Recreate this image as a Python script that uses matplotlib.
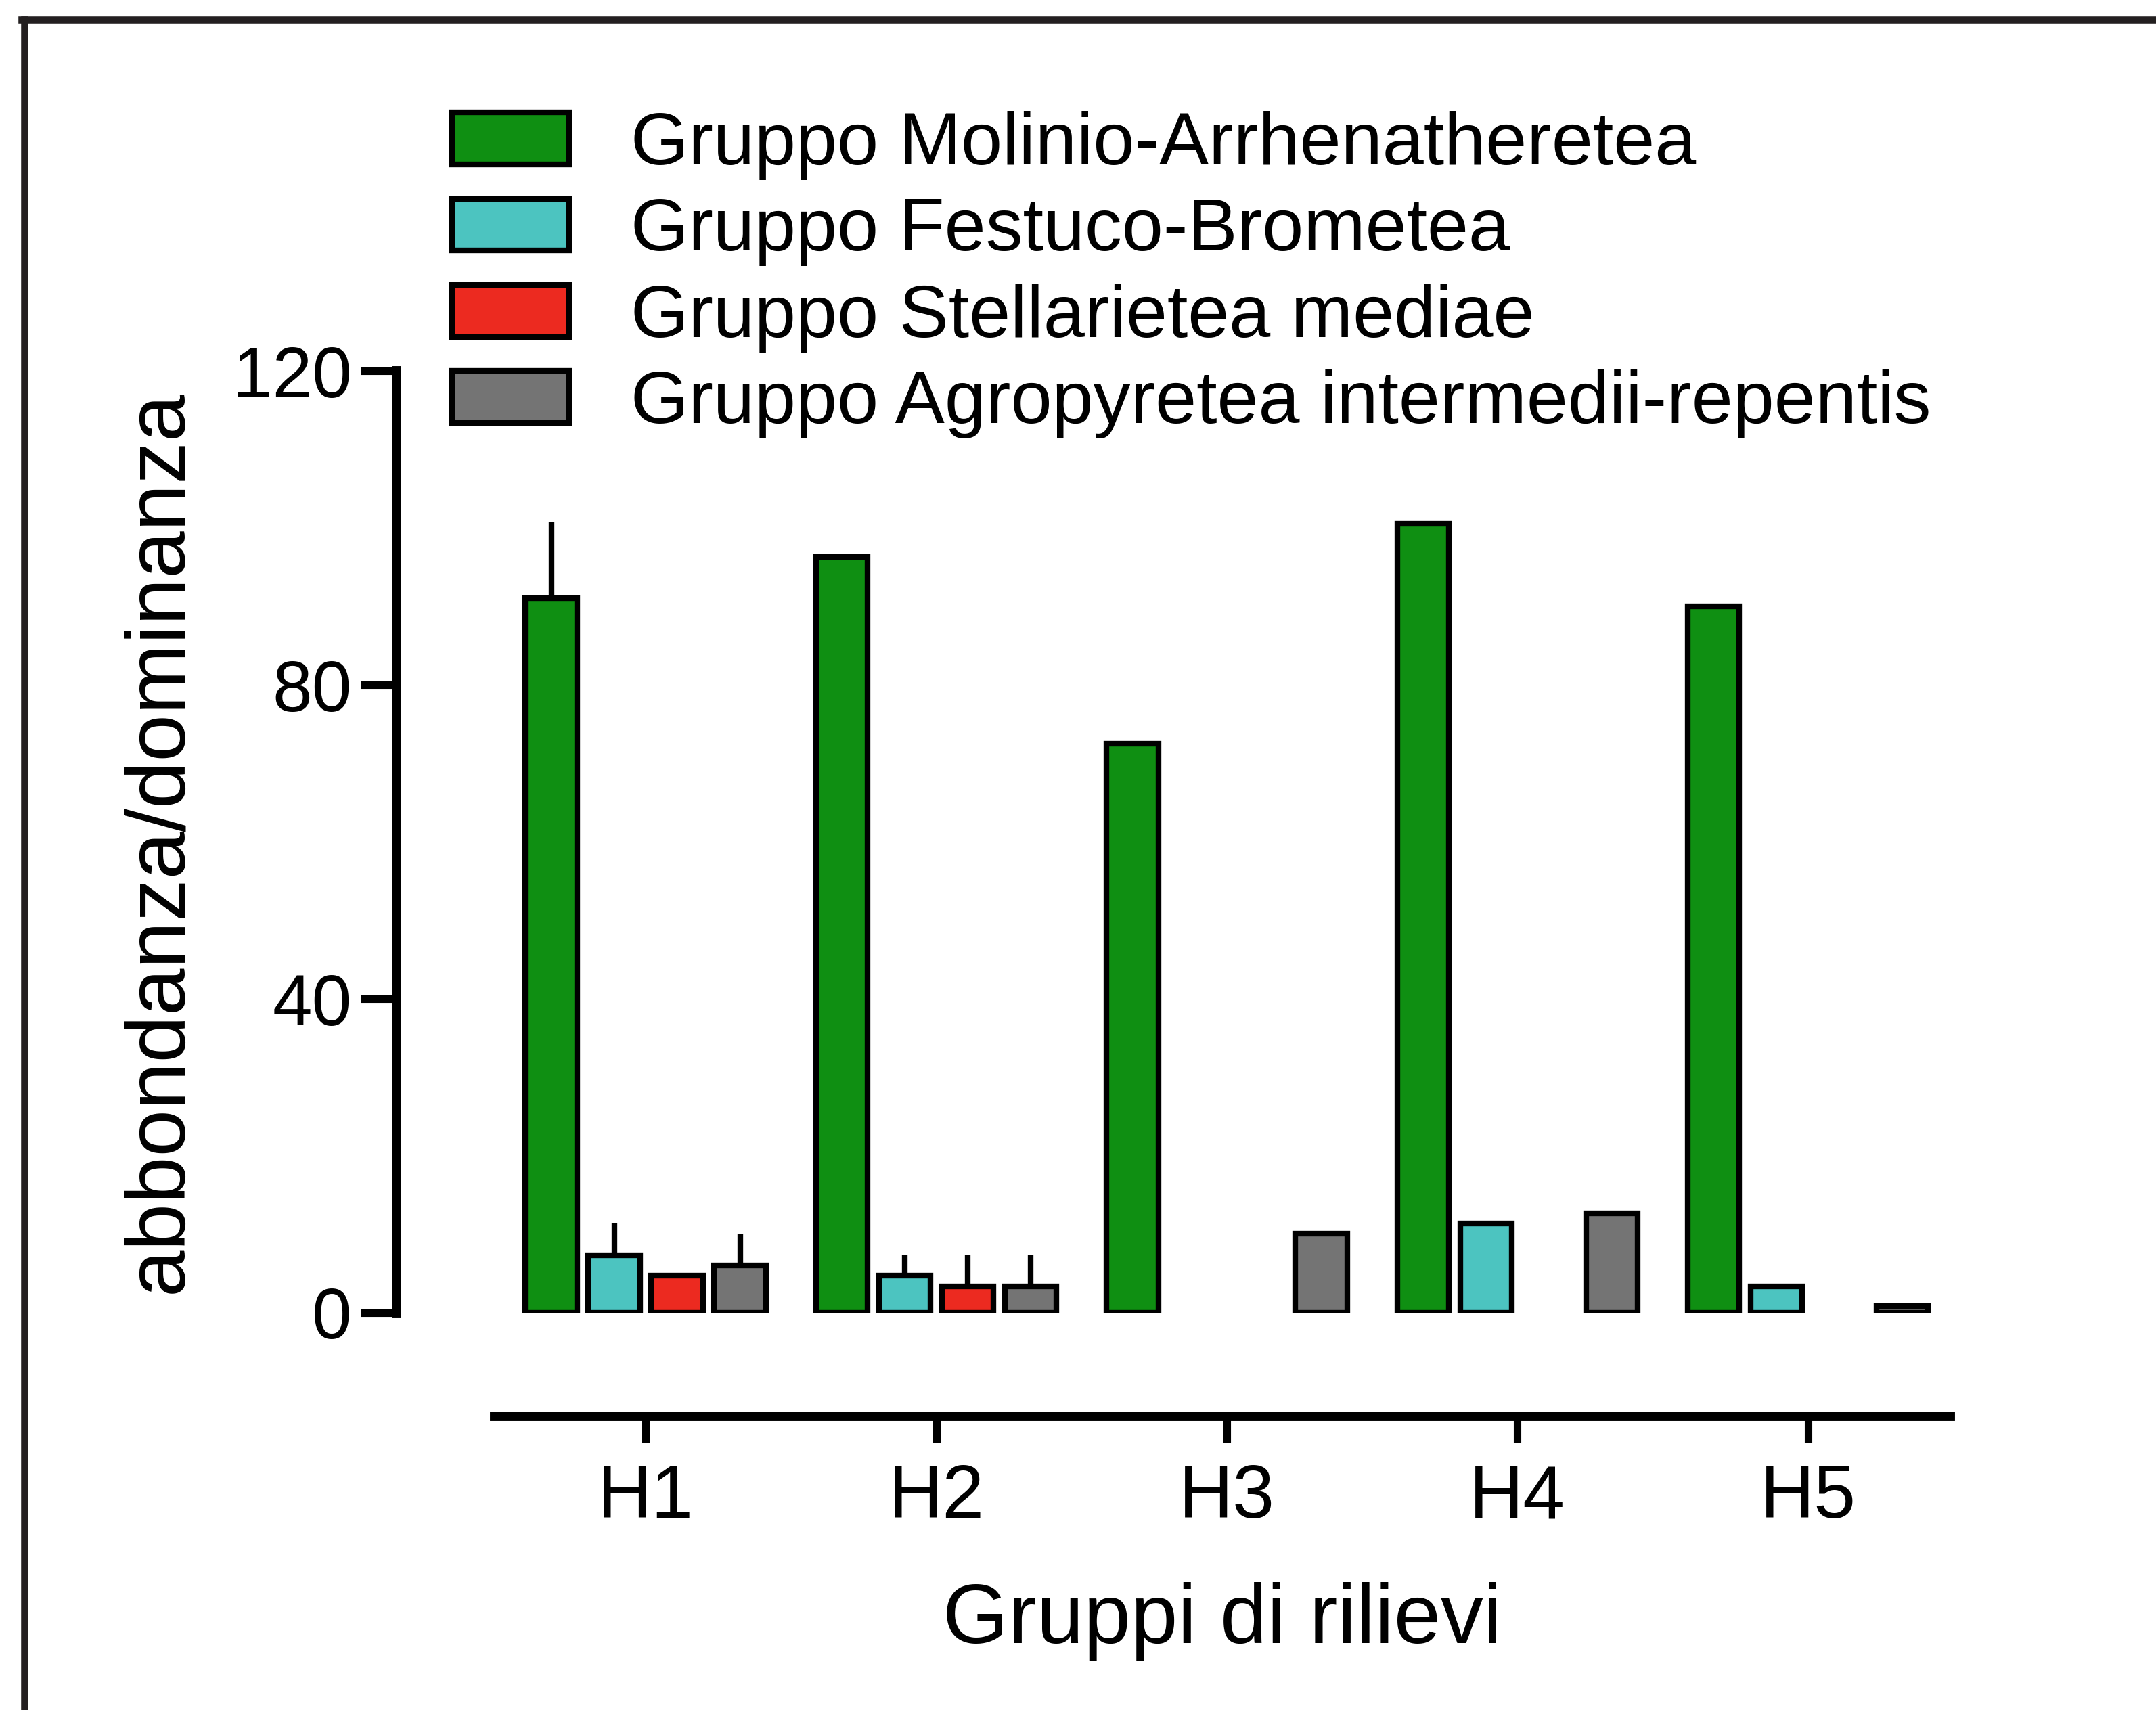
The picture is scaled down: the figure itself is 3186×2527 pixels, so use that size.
import matplotlib
matplotlib.use("Agg")
import matplotlib.pyplot as plt
from matplotlib.lines import Line2D
import numpy as np

plt.rcParams['font.family'] = ['Liberation Sans', 'DejaVu Sans']

# data
groups = ['H1', 'H2', 'H3', 'H4', 'H5']
series_names = ['Gruppo Molinio-Arrhenatheretea',
                'Gruppo Festuco-Brometea',
                'Gruppo Stellarietea mediae',
                'Gruppo Agropyretea intermedii-repentis']
molinio = [91.0, 96.3, 72.5, 100.5, 90.0]
molinio_err = [9.7, 0, 0, 0, 0]
festuco = [7.3, 4.7, 0, 11.4, 3.4]
festuco_err = [4.1, 2.6, 0, 0, 0]
stellarietea = [4.7, 3.4, 0, 0, 0]
stellarietea_err = [0, 3.9, 0, 0, 0]
agropyretea = [6.0, 3.4, 10.1, 12.7, 0.9]
agropyretea_err = [4.1, 3.9, 0, 0, 0]
yticks = [0, 40, 80, 120]

colors = ['#0f8f12', '#4cc4c0', '#ec2a20', '#747474']


def main():
    fig = plt.figure(figsize=(15.93, 12.635), dpi=200)
    ax = fig.add_axes([0.2294, 0.2323, 0.6752, 0.5508])

    x = np.arange(len(groups))
    step = 0.2165
    width = 0.178
    all_vals = [molinio, festuco, stellarietea, agropyretea]
    all_errs = [molinio_err, festuco_err, stellarietea_err, agropyretea_err]
    for i in range(4):
        pos = x + (i - 1.5) * step
        vals = np.array(all_vals[i])
        errs = np.array(all_errs[i])
        # empty groups are not drawn at all
        nz = vals > 0
        ax.bar(pos[nz], vals[nz], width=width, color=colors[i],
               edgecolor='black', linewidth=3, label=series_names[i], zorder=2)
        m = errs > 0
        ax.errorbar(pos[m], vals[m], yerr=[np.zeros(m.sum()), errs[m]],
                    fmt='none', ecolor='black', elinewidth=3, capsize=0, zorder=1)

    ax.set_xlim(-0.52, 4.49)
    ax.set_ylim(0, 120)
    ax.set_xticks(x)
    ax.set_xticklabels(groups)
    ax.set_yticks(yticks)
    ax.set_yticklabels([str(v) for v in yticks])

    for s in ['top', 'right']:
        ax.spines[s].set_visible(False)
    ax.spines['left'].set_position(('outward', 52))
    ax.spines['bottom'].set_position(('outward', 55))
    ax.spines['left'].set_linewidth(5)
    ax.spines['bottom'].set_linewidth(5)
    ax.tick_params(axis='y', length=19, width=4, pad=5, labelsize=38)
    ax.tick_params(axis='x', length=14, width=4, pad=11, labelsize=40)

    ax.set_ylabel('abbondanza/dominanza', fontsize=45, labelpad=18)
    ax.set_xlabel('Gruppi di rilievi', fontsize=45, labelpad=26)

    fig.legend(loc='upper left', bbox_to_anchor=(0.2098, 0.935),
               frameon=False, fontsize=39.5, handlelength=1.57,
               handleheight=0.7, handletextpad=0.83, labelspacing=0.23,
               borderaxespad=0, borderpad=0)

    # open frame round the picture (left and top only)
    fig.add_artist(Line2D([0.0113, 0.0113], [0, 0.9887], color='#231f20',
                          linewidth=3.8, transform=fig.transFigure))
    fig.add_artist(Line2D([0.0102, 1.0], [0.9887, 0.9887], color='#231f20',
                          linewidth=3.8, transform=fig.transFigure))

    fig.savefig('out.png', dpi=200, facecolor='white')


if __name__ == "__main__":
    main()
